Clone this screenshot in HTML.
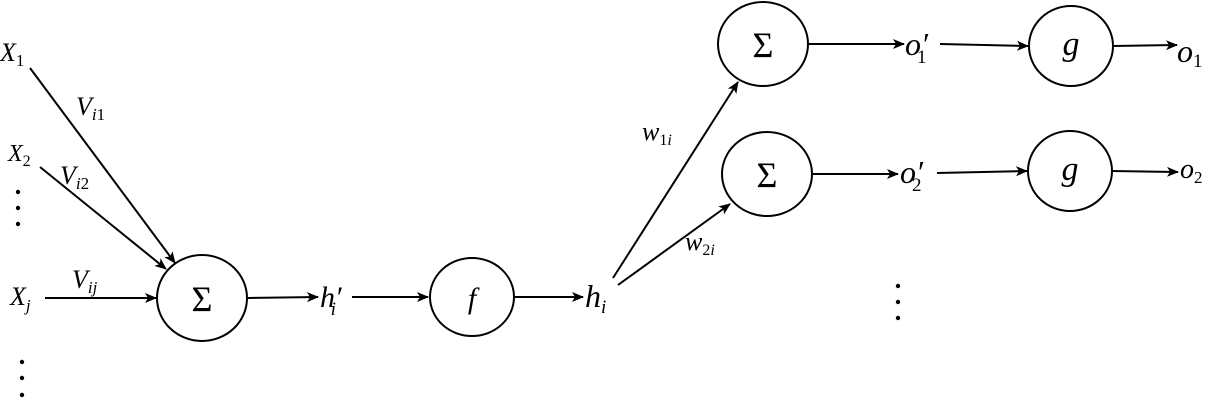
<!DOCTYPE html>
<html><head><meta charset="utf-8"><style>
html,body{margin:0;padding:0;background:#fff;}
svg text{font-family:"Liberation Serif",serif;fill:#000;}
.v{font-style:italic;}
</style></head><body>
<svg width="1212" height="401" viewBox="0 0 1212 401" xmlns="http://www.w3.org/2000/svg">
<defs><marker id="ah" markerWidth="12" markerHeight="10" refX="11" refY="5" orient="auto" markerUnits="userSpaceOnUse"><path d="M0,0 L12,5 L0,10 L3,5 Z" fill="#000"/></marker></defs>
<g stroke="#000" stroke-width="2" fill="none" marker-end="url(#ah)">
<line x1="30" y1="68" x2="175" y2="263"/>
<line x1="40" y1="167" x2="166" y2="269"/>
<line x1="45" y1="298" x2="156" y2="298"/>
<line x1="248" y1="298" x2="318" y2="297"/>
<line x1="352" y1="297" x2="428" y2="297"/>
<line x1="515" y1="297" x2="583" y2="297"/>
<line x1="613" y1="278" x2="738" y2="82"/>
<line x1="618" y1="285" x2="730" y2="204"/>
<line x1="809" y1="44" x2="904" y2="44"/>
<line x1="940" y1="44" x2="1028" y2="46"/>
<line x1="1113" y1="46" x2="1177" y2="45"/>
<line x1="813" y1="174" x2="898" y2="174"/>
<line x1="937" y1="173" x2="1027" y2="171"/>
<line x1="1112" y1="171" x2="1178" y2="172"/>
</g>
<g stroke="#000" stroke-width="2" fill="#fff">
<ellipse cx="202" cy="298" rx="45" ry="43"/>
<ellipse cx="472" cy="297" rx="42" ry="39"/>
<ellipse cx="763" cy="44" rx="45" ry="42"/>
<ellipse cx="767" cy="174" rx="45" ry="42"/>
<ellipse cx="1071" cy="46" rx="42" ry="40"/>
<ellipse cx="1070" cy="171" rx="42" ry="40"/>
</g>
<g font-size="36" text-anchor="middle">
<text x="202" y="311">Σ</text>
<text x="763" y="57">Σ</text>
<text x="767" y="187">Σ</text>
<text class="v" x="472" y="308" font-size="30">f</text>
<text class="v" x="1071" y="55" font-size="34">g</text>
<text class="v" x="1070" y="180" font-size="34">g</text>
</g>
<g font-size="26" class="v">
<text x="0" y="61">X<tspan font-size="17" dy="5" font-style="normal">1</tspan></text>
<text x="8" y="161" font-size="24">X<tspan font-size="16" dy="5" font-style="normal">2</tspan></text>
<text x="10" y="305">X<tspan font-size="17" dy="6">j</tspan></text>
<text x="76" y="115">V<tspan font-size="17" dy="5">i</tspan><tspan font-size="17" font-style="normal">1</tspan></text>
<text x="60" y="184">V<tspan font-size="17" dy="5">i</tspan><tspan font-size="17" font-style="normal">2</tspan></text>
<text x="72" y="288">V<tspan font-size="17" dy="5">ij</tspan></text>
<text x="320" y="307" font-size="30">h′<tspan font-size="19" dy="8" dx="-11">i</tspan></text>
<text x="585" y="307" font-size="32">h<tspan font-size="19" dy="6">i</tspan></text>
<text x="642" y="140">w<tspan font-size="16" dy="5" font-style="normal">1</tspan><tspan font-size="16">i</tspan></text>
<text x="685" y="250">w<tspan font-size="16" dy="5" font-style="normal">2</tspan><tspan font-size="16">i</tspan></text>
<text x="905" y="55" font-size="32">o′<tspan font-size="19" dy="8" dx="-11" font-style="normal">1</tspan></text>
<text x="900" y="183" font-size="32">o′<tspan font-size="19" dy="8" dx="-11" font-style="normal">2</tspan></text>
<text x="1177" y="62" font-size="32">o<tspan font-size="19" dy="5" font-style="normal">1</tspan></text>
<text x="1180" y="178" font-size="28">o<tspan font-size="17" dy="5" font-style="normal">2</tspan></text>
</g>
<g fill="#000">
<circle cx="18" cy="192" r="2.2"/><circle cx="18" cy="208" r="2.2"/><circle cx="18" cy="224" r="2.2"/>
<circle cx="22" cy="362" r="2.2"/><circle cx="22" cy="378" r="2.2"/><circle cx="22" cy="395" r="2.2"/>
<circle cx="898" cy="286" r="2.2"/><circle cx="898" cy="302" r="2.2"/><circle cx="898" cy="318" r="2.2"/>
</g>
</svg>
</body></html>
